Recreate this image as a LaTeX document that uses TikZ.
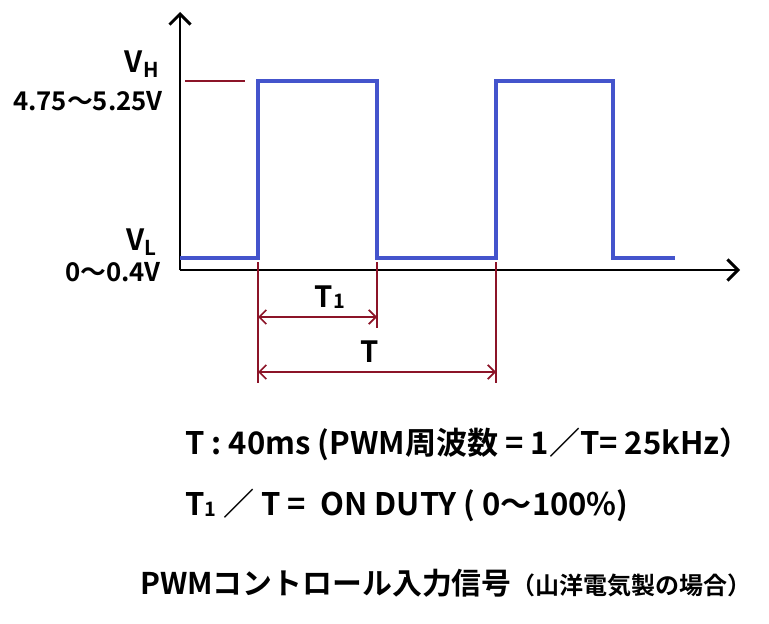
\documentclass[tikz,border=0pt]{standalone}
\usepackage{fontspec}
\setmainfont{Noto Sans CJK JP}[BoldFont={Noto Sans CJK JP Bold}]
\usetikzlibrary{arrows.meta}
\definecolor{sigblue}{RGB}{68,84,204}
\definecolor{dimred}{RGB}{140,20,40}
\tikzset{
  axis/.style={line width=2.5pt,-{Straight Barb[length=9pt,width=18pt,line width=2.5pt]}},
  signal/.style={sigblue,line width=3.5pt},
  guide/.style={dimred,line width=1.5pt},
  dim/.style={dimred,line width=1.5pt,{Straight Barb[length=6pt,width=12pt]}-{Straight Barb[length=6pt,width=12pt]}},
  lbl/.style={font=\bfseries\fontsize{25}{28}\selectfont,inner sep=0pt},
  note/.style={font=\bfseries\fontsize{26.5}{28}\selectfont,inner sep=0pt},
  lvl/.style={font=\bfseries\fontsize{22}{24}\selectfont,inner sep=0pt}
}
\newcommand{\sub}[1]{\raisebox{-0.1ex}{\fontsize{17}{18}\selectfont #1}}
\begin{document}
\begin{tikzpicture}[x=0.03cm,y=-0.03cm]
\useasboundingbox (0,0) rectangle (769,623);
% axes
\coordinate (o) at (180,270);
\coordinate (ytop) at (180,12);
\coordinate (xend) at (740,270);
\draw[axis] (o) -- (ytop);
\draw[axis] (o) -- (xend);
% signal
\draw[signal] (180,258) -- (258,258) -- (258,81) -- (377,81) -- (377,258)
  -- (496,258) -- (496,81) -- (613,81) -- (613,258) -- (675,258);
% level marker and guides
\draw[guide] (185,81) -- (245,81);
\coordinate (g1) at (258,262);
\coordinate (g2) at (377,262);
\coordinate (g3) at (496,262);
\draw[guide] (g1) -- (258,383);
\draw[guide] (g2) -- (377,328);
\draw[guide] (g3) -- (496,383);
\coordinate (a1) at (258,317);
\coordinate (b1) at (377,317);
\coordinate (a2) at (258,372);
\coordinate (b2) at (496,372);
\draw[dim] (a1) -- (b1);
\draw[dim] (a2) -- (b2);
\node[lbl] (t1) at (330,297) {T\sub{1}};
\node[lbl] (tt) at (370,352) {T};
% level labels
\node[lbl] (vh) at (142,64) {V\textsubscript{H}};
\node[lvl,anchor=east] (vhv) at (163,101) {4.75～5.25V};
\node[lbl] (vl) at (142,242) {V\textsubscript{L}};
\node[lvl,anchor=east] (vlv) at (161,272) {0～0.4V};
% notes
\node[note,anchor=west] (n1) at (185,444) {T : 40ms (PWM周波数 = 1／T= 25kHz）};
\node[note,anchor=west] (n2) at (185,505) {T\sub{1} ／ T =\ \ ON DUTY ( 0～100\%)};
\node[anchor=west,inner sep=0pt,font=\bfseries\fontsize{25.5}{28}\selectfont] (ttl) at (140,583)
  {PWMコントロール入力信号{\fontsize{20.5}{22}\selectfont（山洋電気製の場合）}};
\end{tikzpicture}
\end{document}
